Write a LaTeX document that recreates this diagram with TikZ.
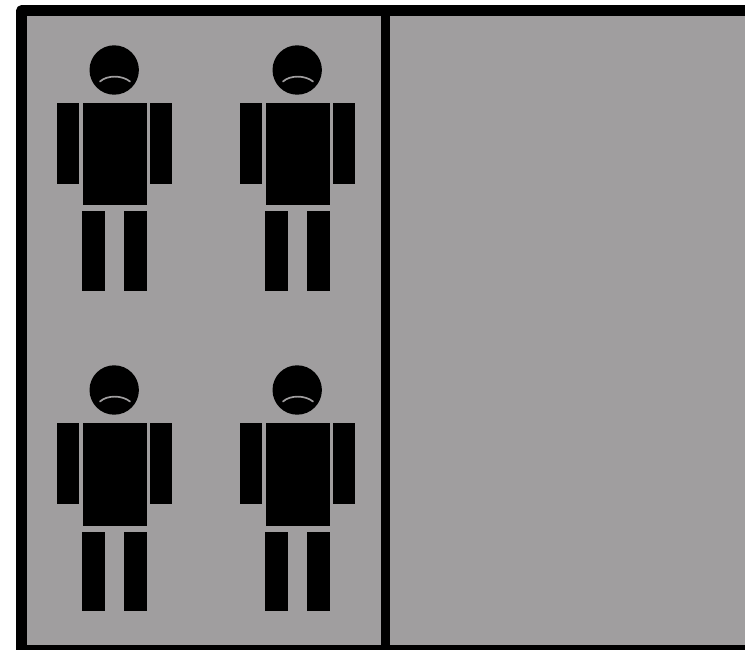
\documentclass[tikz,border=0pt]{standalone}
\definecolor{panel}{HTML}{A09E9F}
\tikzset{
  x=1pt,y=-1pt,
  frameline/.style={draw=black,line width=10.5pt,line join=round},
  dividerline/.style={draw=black,line width=9pt},
  limb/.style={fill=black,draw=none},
  mouth/.style={draw=panel,line width=1.7pt,line cap=round},
  person/.pic={
    \fill[limb] (114.2,70) circle [radius=24.7pt];
    \draw[mouth] (100,81.5) .. controls (107,75) and (122,75) .. (130,81.5);
    \fill[limb] (57.2,103) rectangle (79.2,184);
    \fill[limb] (83.2,103) rectangle (146.8,205.5);
    \fill[limb] (150.2,103) rectangle (172.2,184);
    \fill[limb] (82.2,211.5) rectangle (104.8,291);
    \fill[limb] (124.2,211.5) rectangle (146.8,291);
  }
}
\begin{document}
\begin{tikzpicture}
\useasboundingbox (0,0) rectangle (745,650);
\fill[white] (0,0) rectangle (745,650);
\begin{scope}
\clip (0,0) rectangle (745,650);
\fill[panel] (21.5,10.5) rectangle (760,650);
\draw[frameline] (760,10.5) -- (21.5,10.5) -- (21.5,650) -- (760,650);
\draw[dividerline] (385.5,10.5) -- (385.5,650);
\end{scope}
\pic at (0,0) {person};
\pic at (183,0) {person};
\pic at (0,320) {person};
\pic at (183,320) {person};
\end{tikzpicture}
\end{document}
